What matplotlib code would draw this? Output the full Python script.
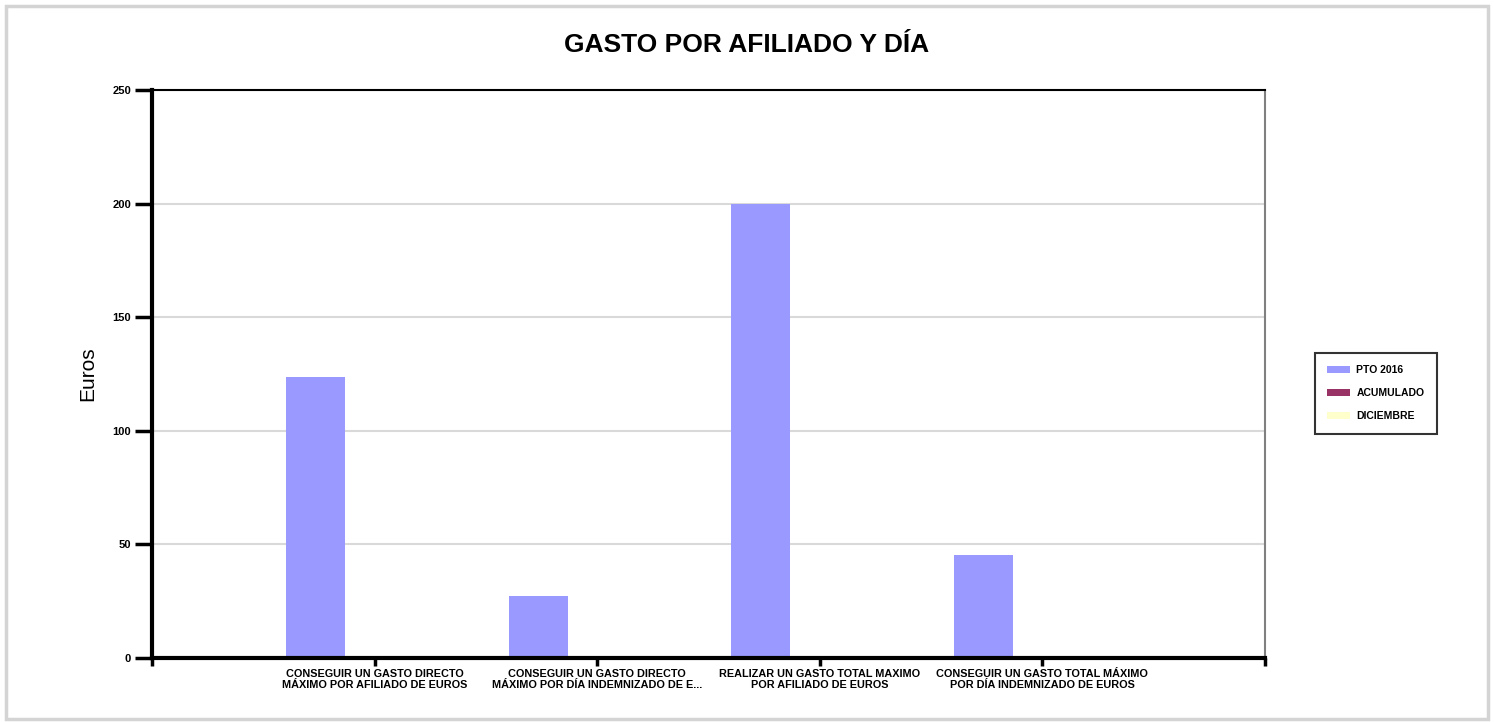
import matplotlib.pyplot as plt
import matplotlib.patches as mpatches
import numpy as np

plt.rcParams['font.family'] = ['Liberation Sans', 'DejaVu Sans']

categorias = ['CONSEGUIR UN GASTO DIRECTO\nMÁXIMO POR AFILIADO DE EUROS',
              'CONSEGUIR UN GASTO DIRECTO\nMÁXIMO POR DÍA INDEMNIZADO DE E...',
              'REALIZAR UN GASTO TOTAL MAXIMO\nPOR AFILIADO DE EUROS',
              'CONSEGUIR UN GASTO TOTAL MÁXIMO\nPOR DÍA INDEMNIZADO DE EUROS']
pto_2016 = [123.5, 27.5, 200, 45.2]
acumulado = [0, 0, 0, 0]
diciembre = [0, 0, 0, 0]
series = ['PTO 2016', 'ACUMULADO', 'DICIEMBRE']
colores = ['#9999ff', '#993366', '#ffffcc']

fig = plt.figure(figsize=(14.94, 7.22), dpi=100)
# borde gris exterior
fig.patches.append(mpatches.Rectangle((0.004, 0.004), 0.992, 0.988, transform=fig.transFigure,
                                      fill=False, edgecolor='#d4d4d4', linewidth=2.5))
ax = fig.add_axes([0.1017, 0.0886, 0.7450, 0.7867])

x = np.arange(1, len(categorias) + 1)
w = 0.265
for i, (vals, c) in enumerate(zip([pto_2016, acumulado, diciembre], colores)):
    ax.bar(x + (i - 1) * w, vals, w, color=c, label=series[i], zorder=2)

ax.set_xlim(0, len(categorias) + 1)
ax.set_ylim(0, 250)
ax.set_yticks([0, 50, 100, 150, 200, 250])
ax.set_xticks(np.arange(0, len(categorias) + 2))
ax.set_xticklabels([''] + categorias + [''], fontsize=7.8, fontweight='bold', linespacing=1.05)
for t in ax.get_yticklabels():
    t.set_fontsize(8)
    t.set_fontweight('bold')
ax.yaxis.grid(True, color='#d9d9d9', linewidth=1.5, zorder=0)
ax.set_axisbelow(True)

ax.spines['left'].set_linewidth(3)
ax.spines['bottom'].set_linewidth(3)
ax.spines['top'].set_linewidth(1.5)
ax.spines['right'].set_linewidth(1.5)
ax.spines['right'].set_color('#808080')
ax.tick_params(axis='y', length=12, width=2.5, pad=3)
ax.tick_params(axis='x', length=6, width=2.5, pad=2)

ax.set_ylabel('Euros', fontsize=15, labelpad=11)
fig.text(0.5, 0.937, 'GASTO POR AFILIADO Y DÍA', ha='center', va='center',
         fontsize=19, fontweight='bold')

leg = ax.legend(loc='center left', bbox_to_anchor=(1.04, 0.466), frameon=True, fancybox=False,
                prop={'size': 7.5, 'weight': 'bold'}, handlelength=2.2, handleheight=0.6,
                labelspacing=1.25, borderpad=1.2, handletextpad=0.6)
leg.get_frame().set_edgecolor('black')
leg.get_frame().set_linewidth(1.5)

fig.savefig('out.png', dpi=100)
